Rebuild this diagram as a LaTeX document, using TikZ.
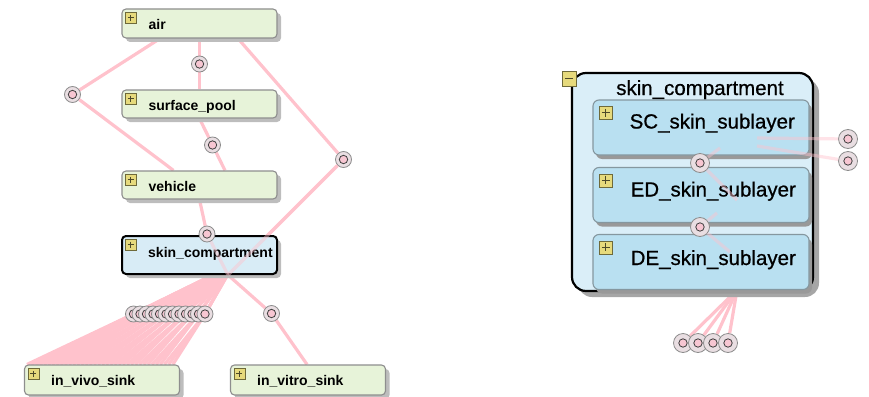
\documentclass[tikz,border=0pt]{standalone}
\usepackage{fontspec}
\setmainfont{Liberation Sans}
\newfontfamily\subfont{Liberation Sans}[FakeBold=0.7]
\usetikzlibrary{shadows,backgrounds}

\definecolor{boxgreen}{HTML}{E7F3D9}
\definecolor{boxline}{HTML}{8E8E8E}
\definecolor{skinblue}{HTML}{D8ECF6}
\definecolor{compblue}{HTML}{DAEEF8}
\definecolor{subblue}{HTML}{B9E0F1}
\definecolor{subline}{HTML}{85979F}
\definecolor{wirepink}{HTML}{FFC2CC}
\definecolor{portring}{HTML}{E9DEE2}
\definecolor{portpink}{HTML}{F7C6D2}
\definecolor{iconfill}{HTML}{E6DA7C}
\definecolor{iconline}{HTML}{6E6A3A}
\definecolor{shadowgray}{HTML}{BDBDBD}

\tikzset{
    box/.style={rectangle, rounded corners=4pt, draw=boxline, line width=1.1pt,
        fill=boxgreen, minimum width=155pt, minimum height=#1, inner sep=0pt,
        drop shadow={fill=shadowgray, opacity=1, shadow xshift=4pt, shadow yshift=-4pt}},
    box/.default=28pt,
    comp/.style={rectangle, rounded corners=14pt, draw=black, line width=2.2pt,
        fill=compblue, minimum width=241pt, minimum height=218pt, inner sep=0pt,
        drop shadow={fill=black!35, opacity=1, shadow xshift=6pt, shadow yshift=-6pt}},
    sub/.style={rectangle, rounded corners=6pt, draw=subline, line width=1.1pt,
        fill=subblue, minimum width=216pt, minimum height=55pt, inner sep=0pt,
        drop shadow={fill=black!40, opacity=1, shadow xshift=3pt, shadow yshift=-4pt}},
    lbl/.style={anchor=base west, inner sep=0pt, font=\bfseries\fontsize{14}{16}\selectfont},
    sublbl/.style={anchor=base west, inner sep=0pt, font=\subfont\fontsize{20.5}{24}\selectfont},
    port/.style={circle, draw=black!45, fill=portring, line width=.8pt,
        minimum size=#1, inner sep=0pt,
        path picture={\draw[fill=portpink, draw=black!75, line width=.8pt]
            (path picture bounding box.center) circle (4.2pt);}},
    port/.default=16pt,
    wire/.style={draw=wirepink, line width=3.2pt},
    faint/.style={wire, opacity=.45},
    icon/.style={draw=iconline, fill=iconfill, line width=.8pt},
    plusmark/.style={draw=iconline!70!black, line width=1pt},
}

\begin{document}
\begin{tikzpicture}[x=1pt, y=-1pt]
\useasboundingbox (0,0) rectangle (869,396);

% left: the compartments of the model
\node[box=29pt] (air) at (199.5,23.5) {};
\node[box] (pool) at (199.5,104) {};
\node[box] (vehicle) at (199.5,185) {};
\node[box=38pt, draw=black, line width=2pt, fill=skinblue] (skinL) at (199.5,255) {};
\node[box=30pt] (vivo) at (102,380) {};
\node[box=30pt] (vitro) at (308,380) {};

\node[lbl] (air-l) at ([shift={(27,6.5)}]air.west) {air};
\node[lbl] (pool-l) at ([shift={(27,6)}]pool.west) {surface\_pool};
\node[lbl] (vehicle-l) at ([shift={(27,6.5)}]vehicle.west) {vehicle};
\node[lbl] (skinL-l) at ([shift={(27,2)}]skinL.west) {skin\_compartment};
\node[lbl] (vivo-l) at ([shift={(27,5.5)}]vivo.west) {in\_vivo\_sink};
\node[lbl] (vitro-l) at ([shift={(27,5.5)}]vitro.west) {in\_vitro\_sink};

\foreach \b in {air,pool,vehicle,skinL,vivo,vitro}
{
    \draw[icon] ([shift={(4,4)}]\b.north west) rectangle +(11,11);
    \draw[plusmark] ([shift={(9.5,6.5)}]\b.north west) -- +(0,6)
        ([shift={(6.5,9.5)}]\b.north west) -- +(6,0);
}

% ports between compartments
\node[port] (pa) at (199.5,64) {};
\node[port] (pb) at (72.5,94.5) {};
\node[port] (pc) at (212.5,145) {};
\node[port] (pd) at (343.5,159.5) {};
\node[port] (pe) at (207,234) {};
\node[port] (pf) at (271.5,313.5) {};
\foreach \i in {0,...,11}
{
    \node[port] (c\i) at (133.5+6.5*\i,314) {};
}

\coordinate (skin-in) at ([xshift=28.5pt]skinL.south);

% right: skin_compartment opened up
\node[comp] (comp) at (692.5,182) {};
\node[anchor=base, inner sep=0pt, font=\subfont\fontsize{20.5}{24}\selectfont] (comp-l) at (700,95) {skin\_compartment};
\draw[icon] ([shift={(-9,-1)}]comp.north west) rectangle +(14,15);
\draw[plusmark] ([shift={(-6,7)}]comp.north west) -- +(8,0);

\node[sub] (sc) at (701,127.5) {};
\node[sub] (ed) at (701,195) {};
\node[sub] (de) at (701,262) {};
\node[sublbl] (sc-l) at ([shift={(37,1)}]sc.west) {SC\_skin\_sublayer};
\node[sublbl] (ed-l) at ([shift={(38,1.5)}]ed.west) {ED\_skin\_sublayer};
\node[sublbl] (de-l) at ([shift={(38,3)}]de.west) {DE\_skin\_sublayer};

\foreach \b in {sc,ed,de}
{
    \draw[icon] ([shift={(7,7)}]\b.north west) rectangle +(13,13);
    \draw[plusmark] ([shift={(13.5,9.5)}]\b.north west) -- +(0,8)
        ([shift={(9.5,13.5)}]\b.north west) -- +(8,0);
}

\node[port=19pt] (qa) at (700,163) {};
\node[port=19pt] (qb) at (700,227) {};
\node[port=19pt] (r1) at (848,139) {};
\node[port=19pt] (r2) at (848,161) {};
\foreach \i in {0,...,3}
{
    \node[port=19pt] (d\i) at (683+15*\i,343) {};
}

\coordinate (sc-o1) at ([shift={(56,10.5)}]sc.center);
\coordinate (sc-o2) at ([shift={(56,18.5)}]sc.center);
\coordinate (sc-o3) at ([shift={(19,20.5)}]sc.center);
\coordinate (ed-i) at ([shift={(36,5)}]ed.center);
\coordinate (ed-o) at ([shift={(16,18)}]ed.center);
\coordinate (de-i) at ([shift={(29,-10)}]de.center);
\coordinate (de-o) at ([xshift=36pt]de.south);

% connectors
\begin{scope}[on background layer]
\draw[wire] ([xshift=-39.5pt]air.south) -- (pb) -- ([xshift=-26pt]vehicle.north);
\draw[wire] (air.south) -- (pa) -- (pool.north);
\draw[wire] ([xshift=38.5pt]air.south) -- (pd) -- (skin-in);
\draw[wire] (pool.south) -- (pc) -- ([xshift=25.5pt]vehicle.north);
\draw[wire] (vehicle.south) -- (pe) -- (skin-in);
\draw[wire] (skin-in) -- (pf) -- ([xshift=-1pt]vitro.north);
\foreach \i in {0,...,11}
{
    \foreach \j in {0,1,2}
    {
        \draw[wire] ([xshift={13.5+1.3*\i}]skinL.south) -- (c\i)
            -- ([xshift={3+12.5*\i+4.2*\j}]vivo.north west);
    }
}
\foreach \i in {0,...,3}
{
    \draw[wire] (de-o) -- (d\i);
}
\end{scope}

\draw[faint] (pd) -- (skin-in);
\draw[faint] (pe) -- (skin-in);
\draw[faint] (sc-o1) -- (r1);
\draw[faint] (sc-o2) -- (r2);
\draw[faint] (sc-o3) -- (qa) -- (ed-i);
\draw[faint] (ed-o) -- (qb) -- (de-i);
\end{tikzpicture}
\end{document}
